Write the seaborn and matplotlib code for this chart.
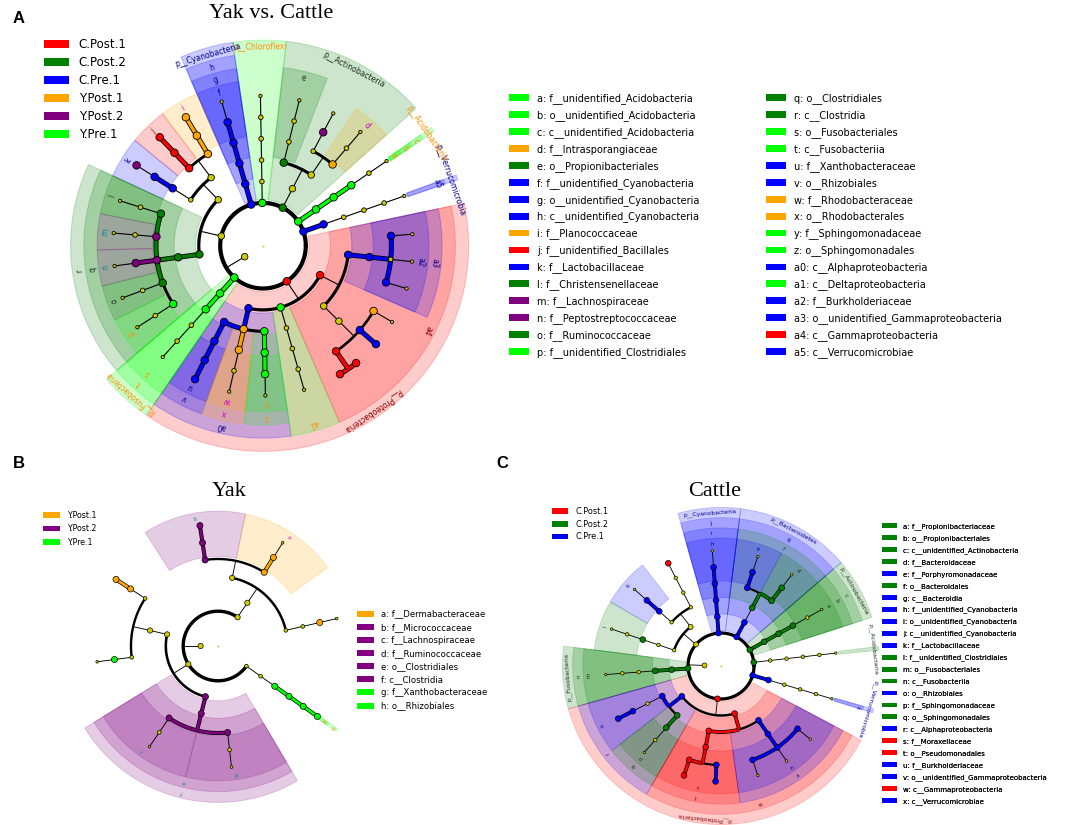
import numpy as np
import pandas as pd
import matplotlib
matplotlib.use('Agg')
import matplotlib.pyplot as plt
import matplotlib.patheffects as pe
from matplotlib.patches import Patch
import seaborn as sns

sns.set_theme(style='white')
plt.rcParams['font.family'] = ['DejaVu Sans']
plt.rcParams['text.color'] = 'black'

GROUPS = ['C.Post.1', 'C.Post.2', 'C.Pre.1', 'Y.Post.1', 'Y.Post.2', 'Y.Pre.1']
GROUP_COLORS = ['#ff0000', '#008000', '#0000ff', '#ffa500', '#800080', '#00ff00']
LABEL_COLORS = ['#8b0000', '#1e2e1e', '#00008b', '#cc00cc', '#008b8b', '#ff8c00']
col = dict(zip(GROUPS, GROUP_COLORS))
lab_col = dict(zip(GROUPS, LABEL_COLORS))
NODE_YELLOW = '#cccc00'

# ---------------- panel A : Yak vs. Cattle ----------------
a_lineages = [
    'p__Proteobacteria|c__Alphaproteobacteria|o__Rhizobiales|f__Xanthobacteraceae|g__Pseudolabrys|s__Pseudolabrys_sp',
    'p__Proteobacteria|c__Alphaproteobacteria|o__Rhodobacterales|f__Rhodobacteraceae|g__Paracoccus|s__Paracoccus_sp',
    'p__Proteobacteria|c__Alphaproteobacteria|o__Sphingomonadales|f__Sphingomonadaceae|g__Sphingomonas|s__Sphingomonas_sp',
    'p__Proteobacteria|c__Deltaproteobacteria|o__Desulfovibrionales|f__Desulfovibrionaceae|g__Desulfovibrio|s__Desulfovibrio_sp',
    'p__Proteobacteria|c__Gammaproteobacteria|o__Pseudomonadales|f__Moraxellaceae|g__Acinetobacter|s__Acinetobacter_lwoffii',
    'p__Proteobacteria|c__Gammaproteobacteria|o__Pseudomonadales|f__Moraxellaceae|g__Acinetobacter|s__Acinetobacter_johnsonii',
    'p__Proteobacteria|c__Gammaproteobacteria|o__Pseudomonadales|f__Moraxellaceae|g__Psychrobacter|s__Psychrobacter_sp',
    'p__Proteobacteria|c__Gammaproteobacteria|o__Pseudomonadales|f__Moraxellaceae|g__Enhydrobacter|s__Enhydrobacter_sp',
    'p__Proteobacteria|c__Gammaproteobacteria|o__unidentified_Gammaproteobacteria|f__Burkholderiaceae|g__Ralstonia|s__Ralstonia_sp',
    'p__Proteobacteria|c__Gammaproteobacteria|o__unidentified_Gammaproteobacteria|f__Burkholderiaceae|g__Comamonas|s__Comamonas_sp',
    'p__Proteobacteria|c__Gammaproteobacteria|o__unidentified_Gammaproteobacteria|f__Burkholderiaceae|g__Massilia|s__Massilia_sp',
    'p__Verrucomicrobia|c__Verrucomicrobiae|o__Verrucomicrobiales|f__Akkermansiaceae|g__Akkermansia|s__Akkermansia_sp',
    'p__Acidobacteria|c__unidentified_Acidobacteria|o__unidentified_Acidobacteria|f__unidentified_Acidobacteria|g__Acidobacteria_gen|s__Acidobacteria_sp',
    'p__Actinobacteria|c__Actinobacteria|o__Micrococcales|f__Intrasporangiaceae|g__Ornithinimicrobium|s__Ornithinimicrobium_sp',
    'p__Actinobacteria|c__Actinobacteria|o__Micrococcales|f__Micrococcaceae|g__Kocuria|s__Kocuria_sp',
    'p__Actinobacteria|c__Actinobacteria|o__Propionibacteriales|f__Propionibacteriaceae|g__Cutibacterium|s__Cutibacterium_acnes',
    'p__Chloroflexi|c__Anaerolineae|o__Anaerolineales|f__Anaerolineaceae|g__Anaerolinea|s__Anaerolinea_sp',
    'p__Cyanobacteria|c__unidentified_Cyanobacteria|o__unidentified_Cyanobacteria|f__unidentified_Cyanobacteria|g__Cyanobacteria_gen|s__Cyanobacteria_sp',
    'p__Firmicutes|c__Bacilli|o__Bacillales|f__Planococcaceae|g__Planococcus|s__Planococcus_sp',
    'p__Firmicutes|c__Bacilli|o__Bacillales|f__unidentified_Bacillales|g__Gemella|s__Gemella_sp',
    'p__Firmicutes|c__Bacilli|o__Lactobacillales|f__Lactobacillaceae|g__Lactobacillus|s__Lactobacillus_sp',
    'p__Firmicutes|c__Clostridia|o__Clostridiales|f__Christensenellaceae|g__Christensenellaceae_R7|s__Christensenella_sp',
    'p__Firmicutes|c__Clostridia|o__Clostridiales|f__Lachnospiraceae|g__Blautia|s__Blautia_sp',
    'p__Firmicutes|c__Clostridia|o__Clostridiales|f__Peptostreptococcaceae|g__Romboutsia|s__Romboutsia_sp',
    'p__Firmicutes|c__Clostridia|o__Clostridiales|f__Ruminococcaceae|g__Ruminococcus|s__Ruminococcus_sp',
    'p__Firmicutes|c__Clostridia|o__Clostridiales|f__unidentified_Clostridiales|g__Intestinibacter|s__Intestinibacter_sp',
    'p__Fusobacteria|c__Fusobacteriia|o__Fusobacteriales|f__Fusobacteriaceae|g__Fusobacterium|s__Fusobacterium_sp',
]
a_letters = ['a', 'b', 'c', 'd', 'e', 'f', 'g', 'h', 'i', 'j', 'k', 'l', 'm', 'n', 'o', 'p',
             'q', 'r', 's', 't', 'u', 'v', 'w', 'x', 'y', 'z', 'a0', 'a1', 'a2', 'a3', 'a4', 'a5']
a_letter_taxa = ['f__unidentified_Acidobacteria', 'o__unidentified_Acidobacteria', 'c__unidentified_Acidobacteria',
                 'f__Intrasporangiaceae', 'o__Propionibacteriales', 'f__unidentified_Cyanobacteria',
                 'o__unidentified_Cyanobacteria', 'c__unidentified_Cyanobacteria', 'f__Planococcaceae',
                 'f__unidentified_Bacillales', 'f__Lactobacillaceae', 'f__Christensenellaceae', 'f__Lachnospiraceae',
                 'f__Peptostreptococcaceae', 'f__Ruminococcaceae', 'f__unidentified_Clostridiales',
                 'o__Clostridiales', 'c__Clostridia', 'o__Fusobacteriales', 'c__Fusobacteriia',
                 'f__Xanthobacteraceae', 'o__Rhizobiales', 'f__Rhodobacteraceae', 'o__Rhodobacterales',
                 'f__Sphingomonadaceae', 'o__Sphingomonadales', 'c__Alphaproteobacteria', 'c__Deltaproteobacteria',
                 'f__Burkholderiaceae', 'o__unidentified_Gammaproteobacteria', 'c__Gammaproteobacteria',
                 'c__Verrucomicrobiae']
a_letter_groups = ['Y.Pre.1', 'Y.Pre.1', 'Y.Pre.1', 'Y.Post.1', 'C.Post.2', 'C.Pre.1', 'C.Pre.1', 'C.Pre.1',
                   'Y.Post.1', 'C.Post.1', 'C.Pre.1', 'C.Post.2', 'Y.Post.2', 'Y.Post.2', 'C.Post.2', 'Y.Pre.1',
                   'C.Post.2', 'C.Post.2', 'Y.Pre.1', 'Y.Pre.1', 'C.Pre.1', 'C.Pre.1', 'Y.Post.1', 'Y.Post.1',
                   'Y.Pre.1', 'Y.Pre.1', 'C.Pre.1', 'Y.Pre.1', 'C.Pre.1', 'C.Pre.1', 'C.Post.1', 'C.Pre.1']
a_mark_taxa = ['p__Proteobacteria', 'p__Verrucomicrobia', 'p__Acidobacteria', 'p__Actinobacteria', 'p__Chloroflexi',
               'p__Cyanobacteria', 'p__Fusobacteria', 'g__Pseudolabrys', 's__Pseudolabrys_sp', 'g__Sphingomonas',
               'g__Acinetobacter', 's__Acinetobacter_lwoffii', 's__Acinetobacter_johnsonii', 'g__Psychrobacter',
               's__Psychrobacter_sp', 'g__Enhydrobacter', 'g__Ralstonia', 'g__Massilia', 'g__Kocuria',
               'g__Cyanobacteria_gen', 'g__Planococcus', 's__Planococcus_sp', 'g__Gemella', 's__Gemella_sp',
               'g__Lactobacillus', 's__Lactobacillus_sp', 'g__Romboutsia']
a_mark_groups = ['C.Post.1', 'C.Pre.1', 'Y.Pre.1', 'C.Post.2', 'Y.Pre.1', 'C.Pre.1', 'Y.Pre.1', 'C.Pre.1', 'C.Pre.1',
                 'Y.Pre.1', 'C.Post.1', 'C.Post.1', 'C.Post.1', 'C.Pre.1', 'C.Pre.1', 'Y.Post.1', 'C.Pre.1',
                 'C.Pre.1', 'Y.Post.2', 'C.Pre.1', 'Y.Post.1', 'Y.Post.1', 'C.Post.1', 'C.Post.1', 'C.Pre.1',
                 'Y.Post.2', 'Y.Post.2']

# ---------------- panel B : Yak ----------------
b_groups = ['Y.Post.1', 'Y.Post.2', 'Y.Pre.1']
b_lineages = [
    'p__Actinobacteria|c__Actinobacteria|o__Corynebacteriales|f__Corynebacteriaceae|g__Corynebacterium|s__Corynebacterium_sp',
    'p__Actinobacteria|c__Actinobacteria|o__Micrococcales|f__Dermabacteraceae|g__Brachybacterium|s__Brachybacterium_sp',
    'p__Actinobacteria|c__Actinobacteria|o__Micrococcales|f__Micrococcaceae|g__Arthrobacter|s__Arthrobacter_sp',
    'p__Firmicutes|c__Bacilli|o__Bacillales|f__Planococcaceae|g__Planococcus|s__Planococcus_sp',
    'p__Firmicutes|c__Bacilli|o__Bacillales|f__Staphylococcaceae|g__Jeotgalicoccus|s__Jeotgalicoccus_sp',
    'p__Firmicutes|c__Clostridia|o__Clostridiales|f__Lachnospiraceae|g__Blautia|s__Blautia_sp',
    'p__Firmicutes|c__Clostridia|o__Clostridiales|f__Ruminococcaceae|g__Ruminococcus|s__Ruminococcus_sp',
    'p__Proteobacteria|c__Alphaproteobacteria|o__Rhizobiales|f__Xanthobacteraceae|g__Pseudolabrys|s__Pseudolabrys_sp',
]
b_letters = ['a', 'b', 'c', 'd', 'e', 'f', 'g', 'h']
b_letter_taxa = ['f__Dermabacteraceae', 'f__Micrococcaceae', 'f__Lachnospiraceae', 'f__Ruminococcaceae',
                 'o__Clostridiales', 'c__Clostridia', 'f__Xanthobacteraceae', 'o__Rhizobiales']
b_letter_groups = ['Y.Post.1', 'Y.Post.2', 'Y.Post.2', 'Y.Post.2', 'Y.Post.2', 'Y.Post.2', 'Y.Pre.1', 'Y.Pre.1']
b_mark_taxa = ['g__Corynebacterium', 'g__Brachybacterium', 'g__Arthrobacter', 's__Arthrobacter_sp', 'g__Planococcus',
               's__Planococcus_sp', 'g__Jeotgalicoccus', 'g__Pseudolabrys', 's__Pseudolabrys_sp']
b_mark_groups = ['Y.Post.1', 'Y.Post.1', 'Y.Post.2', 'Y.Post.2', 'Y.Post.1', 'Y.Post.1', 'Y.Pre.1', 'Y.Pre.1', 'Y.Pre.1']

# ---------------- panel C : Cattle ----------------
c_groups = ['C.Post.1', 'C.Post.2', 'C.Pre.1']
c_lineages = [
    'p__Actinobacteria|c__unidentified_Actinobacteria|o__Propionibacteriales|f__Propionibacteriaceae|g__Cutibacterium|s__Cutibacterium_acnes',
    'p__Bacteroidetes|c__Bacteroidia|o__Bacteroidales|f__Bacteroidaceae|g__Bacteroides|s__Bacteroides_sp',
    'p__Bacteroidetes|c__Bacteroidia|o__Bacteroidales|f__Porphyromonadaceae|g__Porphyromonas|s__Porphyromonas_sp',
    'p__Cyanobacteria|c__unidentified_Cyanobacteria|o__unidentified_Cyanobacteria|f__unidentified_Cyanobacteria|g__Cyanobacteria_gen|s__Cyanobacteria_sp',
    'p__Firmicutes|c__Bacilli|o__Bacillales|f__Bacillaceae|g__Bacillus|s__Bacillus_sp',
    'p__Firmicutes|c__Bacilli|o__Lactobacillales|f__Lactobacillaceae|g__Lactobacillus|s__Lactobacillus_sp',
    'p__Firmicutes|c__Clostridia|o__Clostridiales|f__unidentified_Clostridiales|g__Intestinibacter|s__Intestinibacter_sp',
    'p__Fusobacteria|c__Fusobacteriia|o__Fusobacteriales|f__Fusobacteriaceae|g__Fusobacterium|s__Fusobacterium_sp',
    'p__Proteobacteria|c__Alphaproteobacteria|o__Rhizobiales|f__Beijerinckiaceae|g__Methylobacterium|s__Methylobacterium_sp',
    'p__Proteobacteria|c__Alphaproteobacteria|o__Sphingomonadales|f__Sphingomonadaceae|g__Sphingomonas|s__Sphingomonas_sp',
    'p__Proteobacteria|c__Gammaproteobacteria|o__Pseudomonadales|f__Moraxellaceae|g__Acinetobacter|s__Acinetobacter_sp',
    'p__Proteobacteria|c__Gammaproteobacteria|o__Pseudomonadales|f__Moraxellaceae|g__Psychrobacter|s__Psychrobacter_sp',
    'p__Proteobacteria|c__Gammaproteobacteria|o__unidentified_Gammaproteobacteria|f__Burkholderiaceae|g__Ralstonia|s__Ralstonia_sp',
    'p__Proteobacteria|c__Gammaproteobacteria|o__unidentified_Gammaproteobacteria|f__Burkholderiaceae|g__Comamonas|s__Comamonas_sp',
    'p__Proteobacteria|c__Gammaproteobacteria|o__unidentified_Gammaproteobacteria|f__Burkholderiaceae|g__Massilia|s__Massilia_sp',
    'p__Verrucomicrobia|c__Verrucomicrobiae|o__Verrucomicrobiales|f__Akkermansiaceae|g__Akkermansia|s__Akkermansia_sp',
    'p__Acidobacteria|c__Blastocatellia|o__Blastocatellales|f__Blastocatellaceae|g__Blastocatella|s__Blastocatella_sp',
]
c_letters = ['a', 'b', 'c', 'd', 'e', 'f', 'g', 'h', 'i', 'j', 'k', 'l',
             'm', 'n', 'o', 'p', 'q', 'r', 's', 't', 'u', 'v', 'w', 'x']
c_letter_taxa = ['f__Propionibacteriaceae', 'o__Propionibacteriales', 'c__unidentified_Actinobacteria',
                 'f__Bacteroidaceae', 'f__Porphyromonadaceae', 'o__Bacteroidales', 'c__Bacteroidia',
                 'f__unidentified_Cyanobacteria', 'o__unidentified_Cyanobacteria', 'c__unidentified_Cyanobacteria',
                 'f__Lactobacillaceae', 'f__unidentified_Clostridiales', 'o__Fusobacteriales', 'c__Fusobacteriia',
                 'o__Rhizobiales', 'f__Sphingomonadaceae', 'o__Sphingomonadales', 'c__Alphaproteobacteria',
                 'f__Moraxellaceae', 'o__Pseudomonadales', 'f__Burkholderiaceae',
                 'o__unidentified_Gammaproteobacteria', 'c__Gammaproteobacteria', 'c__Verrucomicrobiae']
c_letter_groups = ['C.Post.2', 'C.Post.2', 'C.Post.2', 'C.Post.2', 'C.Pre.1', 'C.Post.2', 'C.Pre.1', 'C.Pre.1',
                   'C.Pre.1', 'C.Pre.1', 'C.Pre.1', 'C.Post.2', 'C.Post.2', 'C.Post.2', 'C.Pre.1', 'C.Post.2',
                   'C.Post.2', 'C.Pre.1', 'C.Post.1', 'C.Post.1', 'C.Pre.1', 'C.Pre.1', 'C.Post.1', 'C.Pre.1']
c_mark_taxa = ['p__Actinobacteria', 'p__Bacteroidetes', 'p__Cyanobacteria', 'p__Fusobacteria', 'p__Proteobacteria',
               'p__Verrucomicrobia', 'p__Acidobacteria', 'g__Bacteroides', 'g__Porphyromonas', 'g__Cyanobacteria_gen',
               's__Bacillus_sp', 'g__Lactobacillus', 'g__Methylobacterium', 's__Methylobacterium_sp',
               'g__Acinetobacter', 's__Acinetobacter_sp', 'g__Psychrobacter', 's__Psychrobacter_sp',
               'g__Ralstonia', 'g__Comamonas', 'g__Massilia']
c_mark_groups = ['C.Post.2', 'C.Pre.1', 'C.Pre.1', 'C.Post.2', 'C.Post.1', 'C.Pre.1', 'C.Post.2', 'C.Post.2',
                 'C.Pre.1', 'C.Pre.1', 'C.Post.1', 'C.Pre.1', 'C.Pre.1', 'C.Pre.1', 'C.Post.1', 'C.Post.1',
                 'C.Pre.1', 'C.Pre.1', 'C.Pre.1', 'C.Pre.1', 'C.Pre.1']

# angular spacing between neighbouring leaves, by the rank where they split
SPLIT_GAP = [1.0, 1.0, 0.93, 0.84, 0.70, 0.50]
ARC_LW = {1: 3.0, 2: 2.3, 3: 2.2, 4: 2.1, 5: 1.9, 6: 1.7}


def build_tree(lineages):
    nodes = {'': {'level': 0, 'children': [], 'leaves': []}}
    for i, lin in enumerate(lineages):
        parts = lin.split('|')
        nodes['']['leaves'].append(i)
        parent = ''
        for lev in range(1, len(parts) + 1):
            key = '|'.join(parts[:lev])
            if key not in nodes:
                nodes[key] = {'level': lev, 'children': [], 'leaves': []}
                nodes[parent]['children'].append(key)
            nodes[key]['leaves'].append(i)
            parent = key
    return nodes


def leaf_layout(lineages, start):
    parts = [l.split('|') for l in lineages]
    n = len(parts)
    gaps = []
    for i in range(n):
        a, b = parts[i], parts[(i + 1) % n]
        d = next(k for k in range(len(a)) if a[k] != b[k])
        gaps.append(SPLIT_GAP[d])
    gaps = np.array(gaps)
    unit = 360.0 / gaps.sum()
    ang = start + unit * np.concatenate([[0], np.cumsum(gaps[:-1])])
    after = gaps * unit
    before = np.roll(after, 1)
    return ang, before, after


def draw_cladogram(ax, lineages, letters, letter_taxa, letter_groups, mark_taxa, mark_groups,
                   cx, cy, dr, start, root_angle, full_root, thin, fs_letter, fs_phylum):
    sc = dr / 21.4
    nodes = build_tree(lineages)
    ang, before, after = leaf_layout(lineages, start)
    marks = dict(zip(mark_taxa, mark_groups))
    marks.update(dict(zip(letter_taxa, letter_groups)))
    letter_of = dict(zip(letter_taxa, letters))

    def name(key):
        return key.split('|')[-1]

    def group(key):
        return marks.get(name(key)) if key else None

    def theta(key):
        lv = nodes[key]['leaves']
        return 0.5 * (ang[min(lv)] + ang[max(lv)])

    def xy(r, t):
        t = np.radians(t)
        return cx + r * np.cos(t), cy - r * np.sin(t)

    def rad(level):
        return (level + 1) * dr

    def seg(pts, color=None, lw=0.8):
        xs, ys = zip(*[xy(r, t) for r, t in pts])
        if color is None:
            ax.plot(xs, ys, color='black', lw=lw * sc, zorder=2, solid_capstyle='round')
        else:
            ax.plot(xs, ys, color=color, lw=2.4 * sc, zorder=3, solid_capstyle='butt',
                    path_effects=[pe.Stroke(linewidth=3.6 * sc, foreground='black'), pe.Normal()])

    def arc(r, t0, t1, color=None, lw=2.0):
        t = np.linspace(t0, t1, max(8, int(abs(t1 - t0) * 2)))
        seg([(r, tt) for tt in t], color, lw)

    r_leaf = rad(6)

    # shaded sectors and their labels
    for key, nd in nodes.items():
        if not key:
            continue
        g = group(key)
        L = nd['level']
        if g is None or (L != 1 and name(key) not in letter_of):
            continue
        lv = nd['leaves']
        t0 = ang[min(lv)] - before[min(lv)] / 2
        t1 = ang[max(lv)] + after[max(lv)] / 2
        tm = 0.5 * (t0 + t1)
        r_out = r_leaf + 0.75 * dr + (4 - L) * 0.62 * dr
        r_in = rad(L) + 0.15 * dr
        if key.split('|')[0] in thin:
            t0, t1 = tm - 0.7, tm + 0.7
            r_in = r_leaf + 0.15 * dr
        tt = np.linspace(t0, t1, 80)
        ox, oy = xy(r_out, tt)
        ix, iy = xy(r_in, tt[::-1])
        ax.fill(np.concatenate([ox, ix]), np.concatenate([oy, iy]), facecolor=col[g], edgecolor=col[g],
                lw=0.8 * sc, alpha=0.2, zorder=1)
        lx, ly = xy(r_out - 0.33 * dr, tm)
        txt = name(key) if L == 1 else letter_of[name(key)]
        ax.text(lx, ly, txt, rotation=tm - 90, rotation_mode='anchor', ha='center', va='center',
                fontsize=fs_phylum if L == 1 else fs_letter, color=lab_col[g], zorder=6)

    # branches
    phyla = nodes['']['children']
    pt = [theta(p) for p in phyla]
    if full_root:
        arc(rad(1), 0, 360, lw=ARC_LW[1])
    else:
        arc(rad(1), min(pt), max(pt), lw=ARC_LW[1])
    seg([(rad(0), root_angle), (rad(1), root_angle)])
    for key, nd in nodes.items():
        if not key or not nd['children']:
            continue
        L = nd['level']
        g = group(key)
        t = theta(key)
        kids = nd['children']
        if len(kids) == 1:
            k = kids[0]
            colored = g is not None and group(k) == g
            seg([(rad(L), t), (rad(L + 1), theta(k))], col[g] if colored else None)
            continue
        kt = [theta(k) for k in kids]
        arc(rad(L + 1), min(kt), max(kt), lw=ARC_LW[L + 1])
        any_col = False
        for k, tk in zip(kids, kt):
            if g is not None and group(k) == g and L >= 2:
                arc(rad(L + 1), t, tk, color=col[g])
                any_col = True
        seg([(rad(L), t), (rad(L + 1), t)], col[g] if any_col else None)

    # nodes
    rows = []
    for key, nd in nodes.items():
        if not key:
            continue
        g = group(key)
        x, y = xy(rad(nd['level']), theta(key))
        if g is not None:
            d = 7.5
        elif len(nd['leaves']) >= 2:
            d = 6.5
        elif nd['level'] == 6:
            d = 3.3
        else:
            d = 4.6
        rows.append((x, y, col[g] if g else NODE_YELLOW, (0.72 * d * sc) ** 2))
    x, y = xy(rad(0), root_angle)
    rows.append((x, y, NODE_YELLOW, (0.72 * 6.5 * sc) ** 2))
    df = pd.DataFrame(rows, columns=['x', 'y', 'color', 'size'])
    sns.scatterplot(data=df, x='x', y='y', hue='color', palette={c: c for c in df['color'].unique()},
                    s=df['size'].values, edgecolor='black', linewidth=0.6 * sc, legend=False, ax=ax, zorder=5)
    ax.scatter([cx], [cy], s=2, color='#bbcc44', zorder=5, linewidths=0)


def add_legend(ax, labels, groups, x, y, fs, hl, htp, ls):
    handles = [Patch(facecolor=col[g], edgecolor='none', label=l) for l, g in zip(labels, groups)]
    leg = ax.legend(handles=handles, loc='upper left', bbox_to_anchor=(x, y), bbox_transform=ax.transData,
                    frameon=False, fontsize=fs, handlelength=hl, handleheight=0.7, handletextpad=htp,
                    labelspacing=ls, borderpad=0, borderaxespad=0, labelcolor='black')
    ax.add_artist(leg)


fig = plt.figure(figsize=(10.84, 8.25), dpi=100)
ax = fig.add_axes([0, 0, 1, 1])

draw_cladogram(ax, a_lineages, a_letters, a_letter_taxa, a_letter_groups, a_mark_taxa, a_mark_groups,
               263, 245.7, 21.4, 243, 211, True, ['p__Acidobacteria', 'p__Verrucomicrobia'], 5.5, 5.5)
draw_cladogram(ax, b_lineages, b_letters, b_letter_taxa, b_letter_groups, b_mark_taxa, b_mark_groups,
               218, 646, 17.4, 13, 180, False, ['p__Proteobacteria'], 3.8, 4.5)
draw_cladogram(ax, c_lineages, c_letters, c_letter_taxa, c_letter_groups, c_mark_taxa, c_mark_groups,
               721, 666, 16.5, 29.3, 178, True, ['p__Acidobacteria', 'p__Verrucomicrobia'], 4.0, 4.3)

# legends
add_legend(ax, GROUPS, GROUPS, 44, 38.0, 8.5, 2.1, 0.85, 0.43)
a_lab = [f'{l}: {t}' for l, t in zip(a_letters, a_letter_taxa)]
add_legend(ax, a_lab[:16], a_letter_groups[:16], 509, 93.0, 7, 2.06, 0.82, 0.62)
add_legend(ax, a_lab[16:], a_letter_groups[16:], 766, 93.0, 7, 2.06, 0.82, 0.62)
add_legend(ax, b_groups, b_groups, 43, 510.5, 5.7, 2.15, 0.89, 0.58)
add_legend(ax, [f'{l}: {t}' for l, t in zip(b_letters, b_letter_taxa)], b_letter_groups, 357, 609.5, 6.1,
           2.0, 0.83, 0.49)
add_legend(ax, c_groups, c_groups, 551.7, 507.0, 5.9, 2.0, 0.9, 0.45)
add_legend(ax, [f'{l}: {t}' for l, t in zip(c_letters, c_letter_taxa)], c_letter_groups, 881.7, 523.0, 5.0,
           2.25, 0.86, 0.75)

# titles and panel letters
ax.text(271, 18.5, 'Yak vs. Cattle', family='Liberation Serif', fontsize=16, ha='center', va='baseline')
ax.text(229, 496.5, 'Yak', family='Liberation Serif', fontsize=16, ha='center', va='baseline')
ax.text(715, 496.5, 'Cattle', family='Liberation Serif', fontsize=16, ha='center', va='baseline')
for letter, lx, ly in [('A', 13, 23), ('B', 13, 467.5), ('C', 496.5, 467.5)]:
    ax.text(lx, ly, letter, family='Liberation Sans', fontweight='bold', fontsize=12, va='baseline')

ax.set_xlim(0, 1084)
ax.set_ylim(825, 0)
ax.axis('off')
fig.savefig('out.png', dpi=100)
